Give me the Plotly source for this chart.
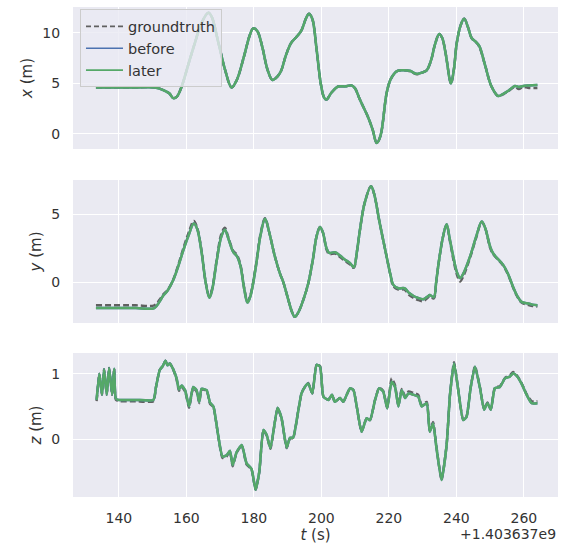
import plotly.graph_objects as go
from plotly.subplots import make_subplots

# ---------------- data ----------------
t_x = [133.2, 140, 145, 150.7, 153.5, 155, 156.1, 157.2, 158.6, 160.5, 162.5, 164.5, 166.5, 167.5,
       169.5, 171.5, 173.4, 175, 177, 178.8, 179.8, 181, 182.5, 184, 185.5, 187, 188, 189.5, 191,
       192.6, 194, 195.5, 196.3, 197.3, 198.6, 199.8, 200.8, 201.5, 203, 205, 207, 209, 210, 211.4,
       213.9, 215.2, 216.4, 217.5, 219.3, 220.5, 222.3, 224, 226.2, 228.2, 230, 231.2, 232.5, 233.6,
       234.9, 235.8, 236.8, 238.4, 239.3, 240.1, 241.3, 242.3, 243.5, 244.5, 245.8, 246.8, 248.5,
       250.4, 252.4, 254, 255.5, 257.3, 258.5, 259.8, 261.5, 264]
later_x = [4.6, 4.6, 4.6, 4.6, 4.3, 4.0, 3.55, 3.7, 4.7, 6.8, 9.0, 11.0, 12.0, 11.6,
           9.0, 6.3, 4.6, 5.4, 7.6, 9.8, 10.45, 10.2, 8.6, 6.4, 5.35, 5.7, 6.2, 7.8, 9.0,
           9.6, 10.2, 11.5, 11.9, 11.4, 8.3, 5.0, 3.6, 3.4, 4.1, 4.7, 4.7, 4.8, 4.5, 3.4,
           1.6, 0.4, -0.9, -0.2, 4.0, 5.4, 6.2, 6.3, 6.25, 5.95, 6.1, 6.3, 7.3, 8.8,
           9.9, 9.5, 8.0, 5.0, 6.5, 9.0, 10.8, 11.4, 10.5, 9.5, 9.1, 8.7, 6.8,
           4.7, 3.75, 4.0, 4.3, 4.75, 4.65, 4.75, 4.8, 4.85]
before_x = [4.6, 4.6, 4.6, 4.6, 4.3, 4.0, 3.55, 3.7, 4.7, 6.8, 9.0, 11.0, 12.0, 11.6,
            9.0, 6.3, 4.6, 5.4, 7.6, 9.8, 10.45, 10.2, 8.6, 6.4, 5.35, 5.7, 6.2, 7.8, 9.0,
            9.6, 10.2, 11.5, 11.9, 11.4, 8.3, 5.0, 3.6, 3.4, 4.1, 4.7, 4.7, 4.8, 4.5, 3.4,
            1.6, 0.4, -0.9, -0.2, 4.0, 5.4, 6.2, 6.3, 6.25, 5.95, 6.1, 6.3, 7.3, 8.8,
            9.9, 9.5, 8.0, 5.0, 6.5, 9.0, 10.8, 11.4, 10.5, 9.5, 9.1, 8.7, 6.8,
            4.7, 3.75, 4.0, 4.3, 4.75, 4.65, 4.75, 4.8, 4.85]
gt_x = [4.6, 4.6, 4.6, 4.6, 4.3, 4.0, 3.55, 3.7, 4.7, 6.8, 9.0, 11.0, 12.0, 11.6,
        9.0, 6.3, 4.6, 5.4, 7.6, 9.8, 10.45, 10.2, 8.6, 6.4, 5.35, 5.7, 6.2, 7.8, 9.0,
        9.6, 10.2, 11.5, 11.9, 11.4, 8.3, 5.0, 3.6, 3.4, 4.1, 4.7, 4.7, 4.8, 4.5, 3.4,
        1.6, 0.4, -0.9, -0.2, 4.0, 5.4, 6.2, 6.3, 6.2, 5.9, 6.1, 6.3, 7.3, 8.8,
        9.9, 9.5, 8.0, 5.0, 6.5, 9.0, 10.8, 11.4, 10.5, 9.5, 9.1, 8.6, 6.8,
        4.7, 3.75, 3.95, 4.25, 4.65, 4.45, 4.65, 4.55, 4.55]

t_y = [133.2, 140, 145, 150.5, 152, 153.1, 154.5, 156.1, 157.5, 159.1, 160.6, 162.2, 163.2, 164.5,
       165.7, 166.8, 167.6, 169, 170.3, 171.4, 172.3, 173.9, 175, 176, 177.2, 178.1, 179, 180.5,
       182, 183.3, 184.5, 186.2, 187.7, 188.7, 190.2, 191.3, 192.1, 193.2, 194.5, 196.1, 197.5,
       198.6, 199.6, 200.5, 201.5, 202.3, 204, 205.5, 207, 208.5, 209.6, 210.5, 211.4, 212.8,
       214.7, 215.6, 217.3, 219.3, 220.5, 221.3, 222.8, 224.6, 226, 227.2, 228.5, 230.2, 231.5,
       232.1, 233.3, 234, 234.7, 236, 237.1, 238, 239.1, 240.2, 241.1, 242, 244, 245.8, 247.5,
       248.5, 250, 250.9, 253.9, 255.3, 256.8, 258, 259.3, 261, 262.5, 264]
later_y = [-1.9, -1.9, -1.9, -1.9, -1.45, -1.0, -0.6, 0.15, 1.1, 2.35, 3.4, 4.3, 3.9, 2.2,
           0.0, -1.15, -0.6, 1.6, 3.3, 3.85, 3.3, 2.2, 1.9, 1.2, -0.6, -1.5, -1.0, 1.0,
           3.5, 4.65, 3.7, 1.9, 0.65, 0.0, -1.3, -2.2, -2.55, -2.2, -1.4, -0.1, 1.7,
           3.4, 4.05, 3.6, 2.5, 2.15, 2.2, 1.95, 1.65, 1.4, 1.1, 2.2, 3.8, 5.8,
           7.05, 6.5, 4.3, 1.9, 0.5, -0.2, -0.45, -0.45, -0.8, -1.0, -1.15, -1.25, -1.05,
           -0.95, -1.1, 0.0, 1.35, 3.3, 4.25, 3.2, 1.85, 0.7, 0.3, 0.6, 1.85, 3.3, 4.45,
           4.0, 2.6, 2.1, 1.25, 0.6, -0.35, -1.0, -1.45, -1.55, -1.65, -1.7]
before_y = [-1.9, -1.9, -1.9, -1.9, -1.45, -1.0, -0.6, 0.15, 1.1, 2.35, 3.4, 4.3, 3.9, 2.2,
            0.0, -1.15, -0.6, 1.6, 3.3, 3.85, 3.3, 2.2, 1.9, 1.2, -0.6, -1.5, -1.0, 1.0,
            3.5, 4.65, 3.7, 1.9, 0.65, 0.0, -1.3, -2.2, -2.55, -2.2, -1.4, -0.1, 1.7,
            3.4, 4.05, 3.6, 2.5, 2.15, 2.2, 1.95, 1.65, 1.4, 1.1, 2.2, 3.8, 5.8,
            7.05, 6.5, 4.3, 1.9, 0.5, -0.2, -0.45, -0.45, -0.8, -1.0, -1.15, -1.25, -1.05,
            -0.95, -1.1, 0.0, 1.35, 3.3, 4.25, 3.2, 1.85, 0.7, 0.3, 0.6, 1.85, 3.3, 4.45,
            4.0, 2.6, 2.1, 1.25, 0.6, -0.35, -1.0, -1.45, -1.55, -1.65, -1.7]
gt_y = [-1.7, -1.7, -1.7, -1.7, -1.3, -0.9, -0.55, 0.2, 1.2, 2.5, 3.6, 4.5, 4.0, 2.3,
        0.0, -1.0, -0.5, 1.7, 3.5, 4.0, 3.4, 2.3, 2.0, 1.3, -0.5, -1.4, -0.9, 1.1,
        3.6, 4.7, 3.7, 1.9, 0.65, 0.0, -1.3, -2.2, -2.55, -2.2, -1.4, -0.1, 1.7,
        3.4, 4.05, 3.6, 2.4, 2.05, 2.1, 1.85, 1.55, 1.3, 1.05, 2.2, 3.8, 5.8,
        7.05, 6.5, 4.3, 1.9, 0.45, -0.3, -0.55, -0.55, -0.95, -1.15, -1.3, -1.4, -1.15,
        -1.05, -1.2, -0.05, 1.3, 3.3, 4.2, 3.1, 1.65, 0.5, 0.05, 0.4, 1.75, 3.2, 4.4,
        4.0, 2.5, 2.05, 1.2, 0.55, -0.4, -1.05, -1.5, -1.65, -1.75, -1.8]

t_z = [133.4, 134.2, 135.0, 135.6, 136.4, 137.1, 138.0, 138.6, 139.1, 140, 145, 150.2, 151,
       152.1, 153, 153.8, 154.4, 155.1, 156, 157.1, 157.8, 158.6, 159.6, 160.8, 162, 163, 163.8,
       164.5, 166, 167, 168, 169.4, 170.7, 171.9, 172.9, 173.7, 174.9, 176.4, 177.8, 179.3,
       180.5, 181.6, 182.8, 183.8, 184.9, 187, 188.2, 189.7, 190.7, 191.6, 193.1, 194.1, 195.1,
       196.1, 197.3, 198.6, 199.6, 200.6, 202.1, 203.1, 204, 205.5, 206.5, 207.5, 208.5, 209.5,
       210.4, 211.9, 213.4, 214.4, 215.9, 217.1, 218.3, 219.5, 220.8, 221.8, 222.8, 223.8, 224.8,
       225.8, 227.2, 228.7, 229.7, 231.2, 232.1, 233.1, 234.1, 235.6, 237.1, 238.1, 239.3, 240.6,
       242, 243, 244.2, 245.5, 247, 248.2, 249.2, 250.2, 251.4, 252.9, 254.4, 255.9, 256.8, 258,
       259.3, 260.8, 262.3, 264]
later_z = [0.6, 1.0, 0.68, 1.07, 0.68, 1.09, 0.68, 1.08, 0.62, 0.6, 0.6, 0.6, 0.8,
           1.06, 1.12, 1.2, 1.13, 1.16, 1.08, 0.93, 0.76, 0.82, 0.75, 0.5, 0.8, 0.75, 0.57,
           0.77, 0.75, 0.56, 0.5, 0.06, -0.27, -0.25, -0.18, -0.4, -0.2, -0.09, -0.37, -0.46,
           -0.78, -0.5, 0.14, 0.06, -0.14, 0.48, 0.32, -0.13, 0.02, 0.02, 0.42, 0.7, 0.8,
           0.85, 0.7, 1.14, 1.11, 0.65, 0.6, 0.68, 0.57, 0.63, 0.57, 0.68, 0.78, 0.75,
           0.52, 0.11, 0.32, 0.29, 0.6, 0.78, 0.73, 0.47, 0.88, 0.8, 0.5, 0.75, 0.63,
           0.7, 0.68, 0.65, 0.5, 0.55, 0.11, 0.24, -0.14, -0.63, -0.09, 0.68, 1.16, 0.73,
           0.29, 0.34, 0.78, 1.11, 0.78, 0.45, 0.55, 0.45, 0.78, 0.8, 0.93, 0.96, 1.01, 0.96,
           0.85, 0.68, 0.55, 0.55]
before_z = [0.6, 1.0, 0.68, 1.07, 0.68, 1.09, 0.68, 1.08, 0.62, 0.6, 0.6, 0.6, 0.8,
            1.06, 1.12, 1.2, 1.13, 1.16, 1.08, 0.93, 0.76, 0.82, 0.75, 0.5, 0.8, 0.75, 0.57,
            0.77, 0.75, 0.56, 0.5, 0.06, -0.27, -0.25, -0.18, -0.4, -0.2, -0.09, -0.37, -0.46,
            -0.78, -0.5, 0.14, 0.06, -0.14, 0.48, 0.32, -0.13, 0.02, 0.02, 0.42, 0.7, 0.8,
            0.85, 0.7, 1.14, 1.11, 0.65, 0.6, 0.68, 0.57, 0.63, 0.57, 0.68, 0.78, 0.75,
            0.52, 0.11, 0.32, 0.29, 0.6, 0.78, 0.73, 0.47, 0.88, 0.8, 0.5, 0.75, 0.63,
            0.7, 0.68, 0.65, 0.5, 0.55, 0.11, 0.24, -0.14, -0.63, -0.09, 0.68, 1.16, 0.73,
            0.29, 0.34, 0.78, 1.11, 0.78, 0.45, 0.55, 0.45, 0.78, 0.8, 0.93, 0.96, 1.01, 0.96,
            0.85, 0.68, 0.55, 0.55]
gt_z = [0.58, 1.0, 0.68, 1.07, 0.68, 1.09, 0.68, 1.08, 0.6, 0.58, 0.58, 0.58, 0.8,
        1.06, 1.12, 1.2, 1.13, 1.16, 1.08, 0.91, 0.74, 0.8, 0.73, 0.48, 0.78, 0.73, 0.55,
        0.76, 0.74, 0.54, 0.49, 0.05, -0.29, -0.27, -0.19, -0.42, -0.21, -0.1, -0.39, -0.47,
        -0.78, -0.51, 0.13, 0.05, -0.15, 0.47, 0.31, -0.14, 0.01, 0.01, 0.42, 0.7, 0.8,
        0.86, 0.7, 1.15, 1.12, 0.65, 0.6, 0.68, 0.57, 0.63, 0.57, 0.68, 0.78, 0.75,
        0.52, 0.11, 0.32, 0.29, 0.6, 0.79, 0.74, 0.48, 0.93, 0.83, 0.52, 0.77, 0.66,
        0.73, 0.71, 0.68, 0.52, 0.57, 0.13, 0.26, -0.12, -0.63, -0.09, 0.68, 1.18, 0.74,
        0.3, 0.35, 0.79, 1.12, 0.79, 0.46, 0.56, 0.46, 0.79, 0.81, 0.94, 0.98, 1.03, 0.97,
        0.86, 0.69, 0.58, 0.58]

x_ticks = [140, 160, 180, 200, 220, 240, 260]
axis_titles = ["<i>x</i> (m)", "<i>y</i> (m)", "<i>z</i> (m)"]
offset_text = "+1.403637e9"
series_names = ["groundtruth", "before", "later"]

# ---------------- style ----------------
BG = "#EAEAF2"
TXT = "#333333"
C_GT = "#606060"
C_BEFORE = "#4C72B0"
C_LATER = "#55A868"
FONT = "DejaVu Sans"

fig = make_subplots(rows=3, cols=1, shared_xaxes=True)

panels = [
    (t_x, gt_x, before_x, later_x, 1.0),
    (t_y, gt_y, before_y, later_y, 1.0),
    (t_z, gt_z, before_z, later_z, 0.5),
]
for i, (tt, g, b, l, sm) in enumerate(panels):
    row = i + 1
    fig.add_trace(go.Scatter(x=tt, y=g, mode="lines", name=series_names[0], showlegend=False,
                             legendgroup="gt",
                             line=dict(color=C_GT, width=2.4, dash="6px,3px",
                                       shape="spline", smoothing=sm)),
                  row=row, col=1)
    fig.add_trace(go.Scatter(x=tt, y=b, mode="lines", name=series_names[1], showlegend=False,
                             legendgroup="before",
                             line=dict(color=C_BEFORE, width=2.5, shape="spline", smoothing=sm)),
                  row=row, col=1)
    fig.add_trace(go.Scatter(x=tt, y=l, mode="lines", name=series_names[2], showlegend=False,
                             legendgroup="later",
                             line=dict(color=C_LATER, width=2.5, shape="spline", smoothing=sm)),
                  row=row, col=1)

# legend entries (thinner sample lines, as in the reference)
for name, grp, col, dash in [(series_names[0], "gt", C_GT, "5px,3px"),
                             (series_names[1], "before", C_BEFORE, "solid"),
                             (series_names[2], "later", C_LATER, "solid")]:
    fig.add_trace(go.Scatter(x=[None], y=[None], mode="lines", name=name, legendgroup=grp,
                             showlegend=True, line=dict(color=col, width=1.6, dash=dash)),
                  row=1, col=1)

W, H = 568, 547
ml, mr, mt, mb = 73, 10, 7, 50
ph = H - mt - mb

def pdom(top_px, bot_px):
    return [(H - mb - bot_px) / ph, (H - mb - top_px) / ph]

domains = [pdom(7, 149), pdom(180, 323), pdom(353, 497)]
yranges = [[-1.49, 12.57], [-3.0, 7.5], [-0.89, 1.32]]
yticks = [[0, 5, 10], [0, 5], [0, 1]]

for i in range(3):
    fig.update_yaxes(row=i + 1, col=1, domain=domains[i], range=yranges[i],
                     tickvals=yticks[i], showgrid=True, gridcolor="white", gridwidth=1.3,
                     zeroline=False, ticks="outside", ticklen=9, tickcolor="rgba(0,0,0,0)",
                     tickfont=dict(family=FONT, size=14, color=TXT),
                     title=dict(text=axis_titles[i], font=dict(family=FONT, size=15, color=TXT),
                                standoff=6),
                     showline=False)
    fig.update_xaxes(row=i + 1, col=1, range=[126.4, 270.1], tickvals=x_ticks,
                     showgrid=True, gridcolor="white", gridwidth=1.3, zeroline=False,
                     ticks="outside", ticklen=8, tickcolor="rgba(0,0,0,0)",
                     tickfont=dict(family=FONT, size=14, color=TXT),
                     showticklabels=(i == 2), showline=False)

fig.update_xaxes(row=3, col=1,
                 title=dict(text="<i>t</i> (s)", font=dict(family=FONT, size=15, color=TXT),
                            standoff=2))

fig.add_annotation(text=offset_text, xref="paper", yref="paper", x=1.0, y=0,
                   xanchor="right", yanchor="top", yshift=-27, showarrow=False,
                   font=dict(family=FONT, size=14, color=TXT))

fig.update_layout(
    width=W, height=H,
    margin=dict(l=ml, r=mr, t=mt, b=mb),
    paper_bgcolor="white", plot_bgcolor=BG,
    font=dict(family=FONT, size=14, color=TXT),
    legend=dict(x=0.0144, y=0.995, xanchor="left", yanchor="top",
                bgcolor="rgba(234,234,242,0.8)", bordercolor="#cccccc", borderwidth=1,
                font=dict(family=FONT, size=14.5, color=TXT), tracegroupgap=0,
                itemwidth=37, traceorder="normal"),
    showlegend=True,
)

fig.write_html("out.html")
